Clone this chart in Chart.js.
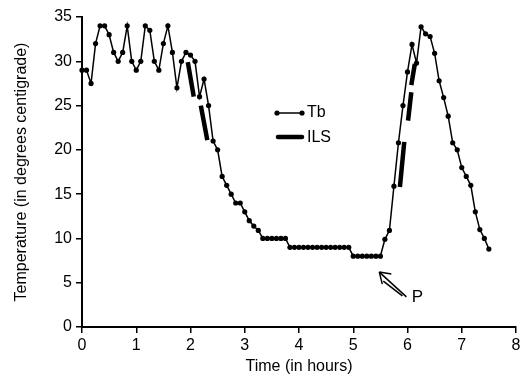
<!DOCTYPE html>
<html><head><meta charset="utf-8">
<script src="https://cdn.jsdelivr.net/npm/chart.js@4.4.1/dist/chart.umd.min.js"></script>
<style>html,body{margin:0;padding:0;background:#fff}#wrap{width:528px;height:385px}</style>
</head><body><div id="wrap"><canvas id="c" width="528" height="385"></canvas></div>
<script>
// Body temperature (Tb), sampled every 5 minutes
const tbMinutes = [0,5,10,15,20,25,30,35,40,45,50,55,60,65,70,75,80,85,90,95,
  100,105,110,115,120,125,130,135,140,145,150,155,160,165,170,175,180,185,190,195,
  200,205,210,215,220,225,230,235,240,245,250,255,260,265,270,275,280,285,290,295,
  300,305,310,315,320,325,330,335,340,345,350,355,360,365,370,375,380,385,390,395,
  400,405,410,415,420,425,430,435,440,445,450];
const tbValues = [29,29,27.5,32,34,34,33,31,30,31,
  34,30,29,30,34,33.5,30,29,32,34,
  31,27,30,31,30.7,30,26,28,25,21,
  20,17,16,15,14,14,13,12,11.4,10.9,
  10,10,10,10,10,10,9,9,9,9,
  9,9,9,9,9,9,9,9,9,9,
  8,8,8,8,8,8,8,9.9,10.9,15.9,
  20.8,25,28.8,31.9,29.8,33.9,33.1,32.8,30.9,27.8,
  25.9,23.8,20.8,20,18,17,16,13,11,10,8.8];
// ILS segments (null = gap)
const ilsHours  = [1.95,2.06,2.12,2.19,2.31,4.0,5.86,5.94,5.98,6.01,6.07,6.07,6.07,6.135];
const ilsValues = [29.9,26.0,null,25.0,21.1,null,15.8,20.9,null,23.3,26.5,null,27.3,29.7];
const xTicks = [0,1,2,3,4,5,6,7,8];
const yTicks = [0,5,10,15,20,25,30,35];

const tbData = tbMinutes.map((m,i)=>({x:m/60, y:tbValues[i]}));
const ilsData = ilsHours.map((h,i)=>({x:h, y:ilsValues[i]}));

const FONT = 'Liberation Sans, Arial, sans-serif';

const overlay = {
  id:'overlay',
  afterDraw(chart){
    const ctx = chart.ctx;
    const xs = chart.scales.x, ys = chart.scales.y;
    ctx.save();
    // legend
    ctx.strokeStyle='#000'; ctx.fillStyle='#000';
    ctx.lineWidth=1.5;
    ctx.beginPath(); ctx.moveTo(277,113); ctx.lineTo(302,113); ctx.stroke();
    [277,302].forEach(px=>{ctx.beginPath();ctx.arc(px,113,2.6,0,Math.PI*2);ctx.fill();});
    ctx.lineWidth=4.5; ctx.lineCap='round';
    ctx.beginPath(); ctx.moveTo(278,137); ctx.lineTo(302,137); ctx.stroke();
    ctx.font='16px '+FONT; ctx.textBaseline='middle'; ctx.textAlign='left';
    ctx.fillText('Tb',307,113);
    ctx.fillText('ILS',307,138);
    // P arrow
    const tx = xs.getPixelForValue(5.48), ty = ys.getPixelForValue(6.2);
    const ex = xs.getPixelForValue(5.98), ey = ys.getPixelForValue(3.4);
    ctx.lineWidth=1.5; ctx.lineCap='butt';
    ctx.beginPath(); ctx.moveTo(tx,ty); ctx.lineTo(ex,ey); ctx.stroke();
    ctx.beginPath(); ctx.moveTo(tx+4,ty+9); ctx.lineTo(ex-4,ey-1); ctx.stroke();
    ctx.beginPath(); ctx.moveTo(tx,ty); ctx.lineTo(tx+12,ty+2); ctx.stroke();
    ctx.beginPath(); ctx.moveTo(tx,ty); ctx.lineTo(tx+3,ty+12); ctx.stroke();
    ctx.font='17px '+FONT;
    ctx.fillText('P', xs.getPixelForValue(6.08), ys.getPixelForValue(3.3));
    ctx.restore();
  }
};

new Chart(document.getElementById('c'), {
  type:'line',
  data:{datasets:[
    {label:'Tb', data:tbData, borderColor:'#000', backgroundColor:'#000', borderWidth:1.5,
     pointRadius:2.6, pointHoverRadius:2.6, pointBorderWidth:0, pointBackgroundColor:'#000', tension:0, clip:false},
    {label:'ILS', data:ilsData, borderColor:'#000', borderWidth:4.5, pointRadius:0, spanGaps:false,
     borderCapStyle:'butt', tension:0, clip:false}
  ]},
  plugins:[overlay],
  options:{
    responsive:false, animation:false, devicePixelRatio:1,
    layout:{padding:{left:0,right:12,top:17,bottom:0}},
    plugins:{legend:{display:false}, tooltip:{enabled:false}},
    scales:{
      x:{type:'linear', min:0, max:8,
        afterFit(s){ s.height = 58; },
        afterBuildTicks(s){ s.ticks = xTicks.map(v=>({value:v})); },
        grid:{drawOnChartArea:false, drawTicks:true, tickLength:6, color:'#000', lineWidth:1.5},
        border:{display:true, color:'#000', width:2},
        ticks:{color:'#000', padding:3, font:{family:FONT, size:16}, maxRotation:0},
        title:{display:true, text:'Time (in hours)', color:'#000', font:{family:FONT, size:16}, padding:{top:0,bottom:9}}
      },
      y:{type:'linear', min:0, max:35,
        afterFit(s){ s.width = 82; },
        afterBuildTicks(s){ s.ticks = yTicks.map(v=>({value:v})); },
        grid:{drawOnChartArea:false, drawTicks:true, tickLength:6, color:'#000', lineWidth:1.5},
        border:{display:true, color:'#000', width:2},
        ticks:{color:'#000', padding:4, font:{family:FONT, size:16}},
        title:{display:true, text:'Temperature (in degrees centigrade)', color:'#000', font:{family:FONT, size:16}, padding:{top:12,bottom:0}}
      }
    }
  }
});
</script></body></html>
